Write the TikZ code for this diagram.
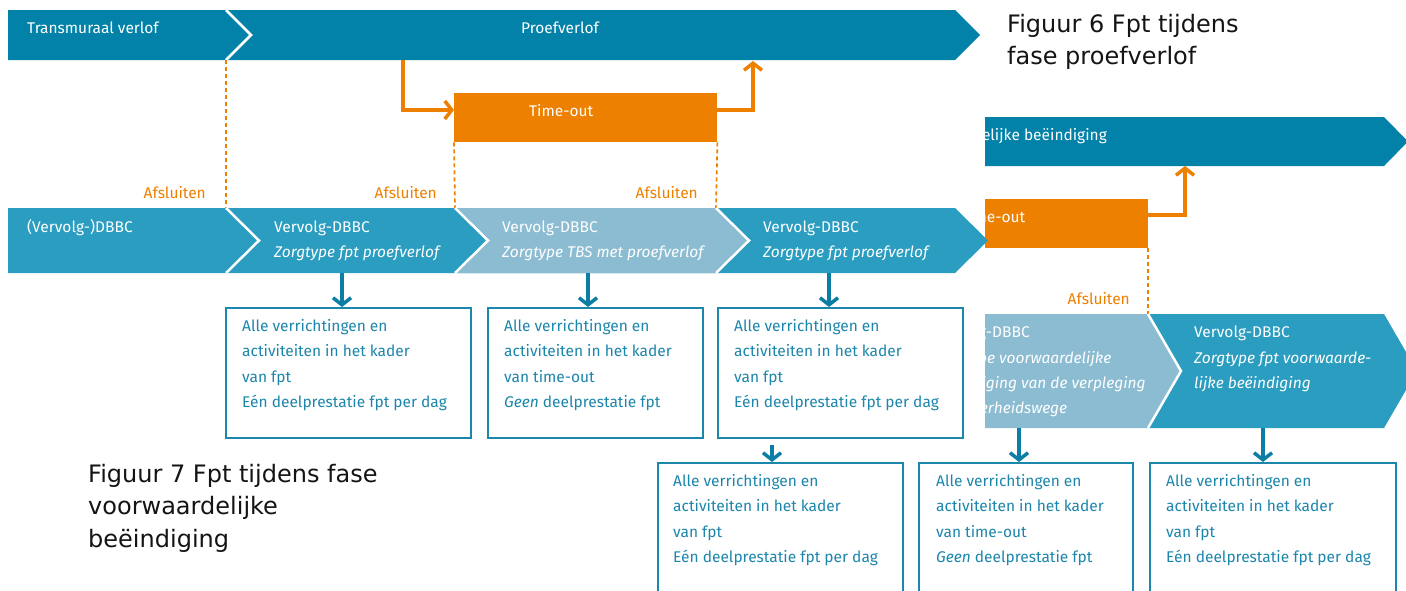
\documentclass[tikz,border=0pt]{standalone}
\usepackage{fontspec}
\setmainfont{Fira Sans}
\newfontfamily\capfont{DejaVu Sans}
\usetikzlibrary{arrows.meta}
\definecolor{darkband}{RGB}{2,130,168}
\definecolor{midband}{RGB}{42,157,192}
\definecolor{lightband}{RGB}{140,188,210}
\definecolor{orng}{RGB}{238,128,0}
\definecolor{boxblue}{RGB}{28,134,172}
\definecolor{arrblue}{RGB}{12,126,166}
\definecolor{captxt}{RGB}{20,20,20}
\tikzset{
  lbl/.style={font=\fontsize{15.5}{25.5}\selectfont, inner sep=0},
  bandtxt/.style={lbl, text=white, anchor=base west},
  bandit/.style={bandtxt, font=\fontsize{15.5}{25.5}\selectfont\itshape},
  boxtxt/.style={lbl, text=boxblue, anchor=north west, align=left},
  fbox/.style={draw=boxblue, line width=2, inner sep=0, anchor=north west, minimum height=130},
  afs/.style={lbl, text=orng, anchor=base east},
  afsdash/.style={draw=orng, line width=1.7, dash pattern=on 4 off 3},
  barrow/.style={draw=arrblue, line width=3.5, -{Straight Barb[length=7,width=18]}},
  oarrow/.style={draw=orng, line width=3.5, -{Straight Barb[length=7,width=18]}},
  sep/.style={draw=white, line width=2.5},
  figcap/.style={font=\capfont\fontsize{24}{32.5}\selectfont, text=captxt, inner sep=0, anchor=north west, align=left}
}
\begin{document}
\begin{tikzpicture}[x=1pt,y=-1pt]
\useasboundingbox (0,0) rectangle (1406,590);
\clip (0,0) rectangle (1406,590);
\fill[white] (0,0) rectangle (1406,590);

% ================= Figure 7 (background, partly hidden) =================
% top band
\fill[darkband] (880,117) -- (1384,117) -- (1408,141.5) -- (1384,166) -- (880,166) -- cycle;
\node[bandtxt, anchor=base east] (t7top) at (1107,140) {Voorwaardelijke beëindiging};
\coordinate (t7bot) at (1185,166);
% time-out box
\node[fill=orng, inner sep=0, minimum width=268, minimum height=49, anchor=north east] (to7) at (1148,199) {};
\node[bandtxt] (to7t) at (961,222) {Time-out};
\coordinate (to7x) at (1185,215);
\draw[oarrow] (to7.east |- to7x) -- (to7x) -- (t7bot);
% closing dashed
\coordinate (d7) at (1148,314);
\draw[afsdash] (to7.south east) -- (d7);
\node[afs] (af7) at (1130,304) {Afsluiten};
% bottom band
\fill[lightband] (880,314) -- (1148,314) -- (1181,371) -- (1148,428) -- (880,428) -- cycle;
\fill[midband] (1148,314) -- (1384,314) -- (1417,371) -- (1384,428) -- (1148,428) -- (1181,371) -- cycle;
\draw[sep] (1148,314) -- (1181,371) -- (1148,428);
\node[bandtxt] (s7a1) at (934,337) {Vervolg-DBBC};
\node[bandit] (s7a2) at (934,363) {Zorgtype voorwaardelijke};
\node[bandit] (s7a3) at (934,388) {beëindiging van de verpleging};
\node[bandit] (s7a4) at (934,413) {van overheidswege};
\node[bandtxt] (s7b1) at (1194,337) {Vervolg-DBBC};
\node[bandit] (s7b2) at (1194,363) {Zorgtype fpt voorwaarde-};
\node[bandit] (s7b3) at (1194,388) {lijke beëindiging};
% boxes
\node[fbox, minimum width=245] (bA) at (657,462) {};
\node[fbox, minimum width=214] (bB) at (918,462) {};
\node[fbox, minimum width=246] (bC) at (1149,462) {};
\node[boxtxt] (tA) at (673,474) {Alle verrichtingen en\\activiteiten in het kader\\van fpt\\Eén deelprestatie fpt per dag};
\node[boxtxt] (tB) at (936,474) {Alle verrichtingen en\\activiteiten in het kader\\van time-out\\\textit{Geen} deelprestatie fpt};
\node[boxtxt] (tC) at (1166,474) {Alle verrichtingen en\\activiteiten in het kader\\van fpt\\Eén deelprestatie fpt per dag};
\coordinate (aA) at (772,428);
\coordinate (aB) at (1019,428);
\coordinate (aC) at (1263,428);
\draw[barrow] (aA) -- (aA |- bA.north);
\draw[barrow] (aB) -- (aB |- bB.north);
\draw[barrow] (aC) -- (aC |- bC.north);

% ================= occluder of Figure 6 =================
\fill[white] (0,0) rectangle (985,445);

% ================= Figure 6 =================
% top band
\fill[darkband] (8,10) -- (955,10) -- (980,35) -- (955,60) -- (8,60) -- cycle;
\draw[sep] (226,10) -- (251,35) -- (226,60);
\node[bandtxt] (t6a) at (27,33) {Transmuraal verlof};
\node[bandtxt, anchor=base] (t6b) at (560,33) {Proefverlof};
\coordinate (t6in) at (403,60);
\coordinate (t6out) at (753,61);
% time-out box
\node[fill=orng, inner sep=0, minimum width=263, minimum height=49, anchor=north west] (to6) at (454,93) {};
\node[bandtxt] (to6t) at (529,116) {Time-out};
\coordinate (to6y) at (0,110);
\draw[oarrow] (t6in) -- (t6in |- to6y) -- (to6.west |- to6y);
\draw[oarrow] (to6.east |- to6y) -- (t6out |- to6y) -- (t6out);
% dashed closing lines
\coordinate (d6a) at (226,60);
\coordinate (d6b) at (226,208);
\coordinate (d6c) at (455,208);
\coordinate (d6d) at (716,208);
\draw[afsdash] (d6a) -- (d6b);
\draw[afsdash] (to6.south west) -- (d6c);
\draw[afsdash] (to6.south east) -- (d6d);
\node[afs] (af6a) at (206,198) {Afsluiten};
\node[afs] (af6b) at (437,198) {Afsluiten};
\node[afs] (af6c) at (698,198) {Afsluiten};
% bottom band
\fill[midband] (8,208) -- (955,208) -- (988,240.5) -- (955,273) -- (8,273) -- cycle;
\fill[lightband] (455,208) -- (716,208) -- (749,240.5) -- (716,273) -- (455,273) -- (488,240.5) -- cycle;
\draw[sep] (226,208) -- (259,240.5) -- (226,273);
\draw[sep] (455,208) -- (488,240.5) -- (455,273);
\draw[sep] (716,208) -- (749,240.5) -- (716,273);
\node[bandtxt] (s6a) at (27,232) {(Vervolg-)DBBC};
\node[bandtxt] (s6b1) at (274,232) {Vervolg-DBBC};
\node[bandit] (s6b2) at (274,257) {Zorgtype fpt proefverlof};
\node[bandtxt] (s6c1) at (502,232) {Vervolg-DBBC};
\node[bandit] (s6c2) at (502,257) {Zorgtype TBS met proefverlof};
\node[bandtxt] (s6d1) at (763,232) {Vervolg-DBBC};
\node[bandit] (s6d2) at (763,257) {Zorgtype fpt proefverlof};
% boxes
\node[fbox, minimum width=245] (b1) at (225,307) {};
\node[fbox, minimum width=215] (b2) at (487,307) {};
\node[fbox, minimum width=245] (b3) at (717,307) {};
\node[boxtxt] (tx1) at (242,319) {Alle verrichtingen en\\activiteiten in het kader\\van fpt\\Eén deelprestatie fpt per dag};
\node[boxtxt] (tx2) at (504,319) {Alle verrichtingen en\\activiteiten in het kader\\van time-out\\\textit{Geen} deelprestatie fpt};
\node[boxtxt] (tx3) at (734,319) {Alle verrichtingen en\\activiteiten in het kader\\van fpt\\Eén deelprestatie fpt per dag};
\coordinate (a1) at (342,273);
\coordinate (a2) at (588,273);
\coordinate (a3) at (829,273);
\draw[barrow] (a1) -- (a1 |- b1.north);
\draw[barrow] (a2) -- (a2 |- b2.north);
\draw[barrow] (a3) -- (a3 |- b3.north);

% ================= captions =================
\node[figcap] (cap6) at (1007,14) {Figuur 6 Fpt tijdens\\fase proefverlof};
\node[figcap] (cap7) at (88,464) {Figuur 7 Fpt tijdens fase\\voorwaardelijke\\beëindiging};
\end{tikzpicture}
\end{document}
